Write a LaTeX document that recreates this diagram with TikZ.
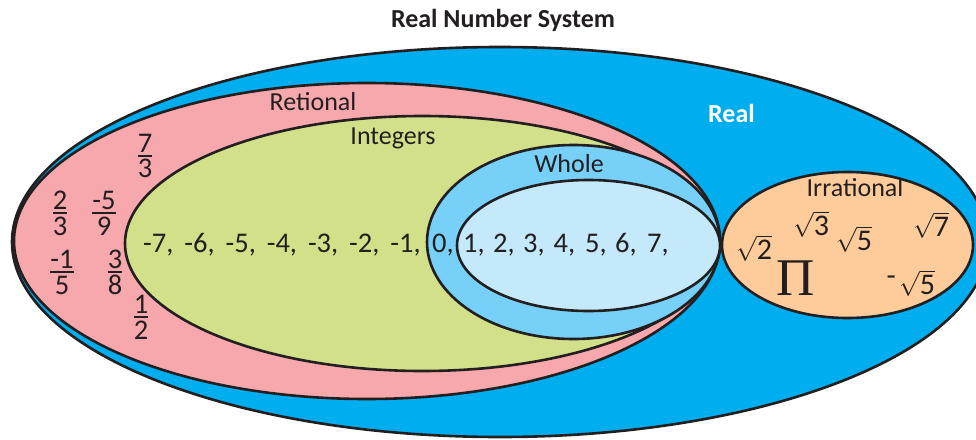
\documentclass[tikz,border=0pt]{standalone}
\usepackage{amsmath}
\usepackage{fontspec}
\setmainfont{Carlito}
\newfontfamily\pifont{Liberation Serif}
\usetikzlibrary{calc}
\definecolor{realblue}{HTML}{00ADEE}
\definecolor{ratpink}{HTML}{F6A8AC}
\definecolor{intgreen}{HTML}{D3E08A}
\definecolor{wholeblue}{HTML}{76D0F7}
\definecolor{natblue}{HTML}{C3E9FA}
\definecolor{irrpeach}{HTML}{FDCC9A}
\definecolor{ink}{HTML}{231F20}
\tikzset{
  setline/.style={draw=ink, line width=2.6pt},
  txt/.style={font=\fontsize{26}{30}\selectfont, inner sep=0pt, text=ink},
  num/.style={font=\fontsize{28.5}{32}\selectfont, inner sep=0pt, text=ink},
  rt/.style={font=\fontsize{30}{34}\selectfont, inner sep=0pt, text=ink},
}
\newcommand\myfr[2]{{\setlength\arrayrulewidth{2.4pt}\renewcommand\arraystretch{0}%
  \arrayrulecolor{ink}%
  \begin{tabular}{@{}c@{}}\rule[-2.5pt]{0pt}{0pt}#1\\\hline\rule{0pt}{21pt}#2\end{tabular}}}
\usepackage{colortbl}
\begin{document}
\begin{tikzpicture}[x=1pt,y=-1pt]
\useasboundingbox (0,0) rectangle (976,439);
% sets
\draw[setline, fill=realblue] (500,242) ellipse [x radius=488, y radius=195];
\draw[setline, fill=ratpink] (367,241) ellipse [x radius=353, y radius=158];
\draw[setline, fill=intgreen] (422.5,243.5) ellipse [x radius=297.5, y radius=127.5];
\draw[setline, fill=wholeblue] (573.5,242) ellipse [x radius=146.5, y radius=97];
\draw[setline, fill=natblue] (588.5,245.5) ellipse [x radius=131.5, y radius=65.5];
\draw[setline, fill=irrpeach] (847.5,245) ellipse [x radius=125.5, y radius=73];
% title and labels
\node[txt, font=\fontsize{26}{30}\selectfont\bfseries] (title) at (503,20) {Real Number System};
\node[txt] (lrat) at (313,102) {Retional};
\node[txt] (lint) at (393,138) {Integers};
\node[txt] (lwhole) at (569,164) {Whole};
\node[txt, anchor=west, text=white, font=\fontsize{26}{30}\selectfont\bfseries] (lreal) at (708,113) {Real};
\node[txt] (lirr) at (855,188) {Irrational};
% integers
\foreach \v [count=\i from 0] in {-7,-6,-5,-4,-3,-2,-1} {
  \node[num, anchor=base west] (neg\i) at ({143+41.2*\i},252) {\v,};
}
\foreach \v/\x in {0/432,1/463,2/493,3/523,4/553.5,5/585,6/615,7/647} {
  \node[num, anchor=base west] (pos\v) at (\x,252) {\v,};
}
% fractions
\node[num] (fa) at (145,156) {\myfr{7}{3}};
\node[num] (fb) at (60,213) {\myfr{2}{3}};
\node[num] (fc) at (104,213) {\myfr{-5}{9}};
\node[num] (fd) at (62,272) {\myfr{-1}{5}};
\node[num] (fe) at (115,272) {\myfr{3}{8}};
\node[num] (ff) at (141,317) {\myfr{1}{2}};
% irrationals
\node[rt] (r2) at (754,248) {$\sqrt{\text{2}}$};
\node[rt] (r3) at (811,224) {$\sqrt{\text{3}}$};
\node[rt] (r5) at (854,239) {$\sqrt{\text{5}}$};
\node[rt] (r7) at (931,225) {$\sqrt{\text{7}}$};
\node[rt] (mr5) at (917,283) {$\sqrt{\text{5}}$};
\node[rt, anchor=east] (minus) at (896,281) {-};
\node[txt, font=\fontsize{53}{60}\pifont] (pi) at (796,278) {Π};
\end{tikzpicture}
\end{document}
